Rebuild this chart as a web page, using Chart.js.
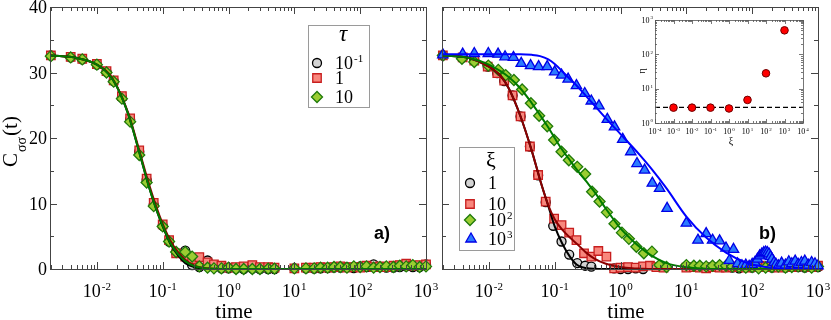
<!DOCTYPE html>
<html>
<head>
<meta charset="utf-8">
<script src="https://cdn.jsdelivr.net/npm/chart.js@4.4.1/dist/chart.umd.min.js"></script>
<style>
html, body { margin: 0; padding: 0; background: #fff; width: 831px; height: 320px; overflow: hidden; }
canvas { position: absolute; }
</style>
</head>
<body>
<canvas id="chartA" width="450" height="340" style="left:-10px;top:-10px"></canvas>
<canvas id="chartB" width="411" height="340" style="left:430px;top:-10px"></canvas>
<canvas id="inset" width="200" height="150" style="left:620px;top:0px"></canvas>
<script>
// ---- axes ----
const X_MIN = 0.00194, X_MAX = 1000;
const X_EXP = [-2, -1, 0, 1, 2, 3];
const Y_TICKS = [0, 10, 20, 30, 40];
const Y_MINOR = [5, 15, 25, 35];

// ---- panel a : tau = 10^-1, 1, 10 ----
const TAU_LABELS = ['10^-1', '1', '10'];
const tA = [0.002, 0.004, 0.006, 0.01, 0.014, 0.018, 0.024, 0.032, 0.044, 0.057, 0.073, 0.1, 0.125, 0.16,
    0.22, 0.28, 0.36, 0.48, 0.6, 0.78, 1.0, 1.3, 1.7, 2.3, 3.0, 4.0, 5.0,
    10, 15, 20, 25, 32, 40, 50, 63, 80, 100, 125, 160, 200, 250, 320, 400, 500, 630, 800, 1000];
const aTau01 = [32.6, 32.3, 32.0, 31.2, 30.1, 28.7, 26.2, 22.8, 17.9, 13.6, 9.8, 6.6, 4.2, 2.5,
    2.8, 0.6, 0.3, 1.3, 0.3, 0.1, 0.1, 0.05, 0, 0.05, 0, 0, 0,
    0.1, 0.1, 0.05, 0.1, 0.15, 0.2, 0.2, 0.3, 0.15, 0.4, 0.3, 0.7, 0.3, 0.2, 0.2, 0.3, 0.4, 0.3, 0.3, 0.7];
const aTau1 = [32.6, 32.4, 32.1, 31.3, 30.2, 28.8, 26.4, 23.0, 18.1, 13.8, 10.1, 6.8, 4.4, 2.4,
    1.9, 1.5, 1.8, 1.0, 0.7, 0.5, 0.2, 0.3, 0.4, 0.6, 0.3, 0.3, 0.2,
    0.1, 0.2, 0.2, 0.3, 0.2, 0.3, 0.4, 0.2, 0.3, 0.2, 0.5, 0.3, 0.4, 0.3, 0.5, 0.6, 0.8, 0.5, 0.6, 0.7];
const aTau10 = [32.5, 32.3, 32.0, 31.2, 30.0, 28.6, 26.0, 22.5, 17.4, 13.2, 9.6, 6.5, 4.2, 2.6,
    2.6, 1.9, 0.4, 0.2, 0.1, 0.1, 0.2, 0, 0, 0, 0, 0.05, 0.05,
    0.1, 0.1, 0.1, 0.2, 0.2, 0.3, 0.3, 0.2, 0.4, 0.3, 0.4, 0.2, 0.3, 0.4, 0.3, 0.5, 0.4, 0.6, 0.3, 0.4];

// fitted curves (both panels use the same time grid)
const fitT = [0.002, 0.005, 0.01, 0.015, 0.02, 0.03, 0.045, 0.06, 0.08, 0.1, 0.13, 0.17, 0.22, 0.3, 0.4, 0.6,
    1, 1.5, 2, 3, 5, 10, 20, 40, 80, 150, 300, 1000];
const aFit01 = [32.6, 32.2, 31.2, 29.8, 27.9, 23.6, 17.5, 13.0, 9.1, 6.5, 3.9, 2.1, 0.9, 0.3, 0.08, 0,
    0, 0, 0, 0, 0, 0, 0, 0, 0, 0, 0, 0];
const aFit1 = [32.6, 32.2, 31.2, 29.9, 28.0, 23.8, 17.8, 13.4, 9.5, 6.9, 4.4, 2.6, 1.4, 0.55, 0.2, 0.05,
    0, 0, 0, 0, 0, 0, 0, 0, 0, 0, 0, 0];
const aFit10 = [32.6, 32.2, 31.2, 29.8, 27.9, 23.6, 17.5, 13.0, 9.1, 6.6, 4.0, 2.3, 1.2, 0.45, 0.15, 0.03,
    0, 0, 0, 0, 0, 0, 0, 0, 0, 0, 0, 0];

// ---- panel b : xi = 1, 10, 10^2, 10^3 ----
const XI_LABELS = ['1', '10', '10^2', '10^3'];
const tB1 = [0.002, 0.004, 0.006, 0.0096, 0.0134, 0.0171, 0.0229, 0.0303, 0.042, 0.056, 0.073, 0.095, 0.127, 0.166,
    0.22, 0.29, 0.36, 0.8, 1.0, 1.3, 1.7, 2.2,
    50, 63, 80, 100, 130, 160, 200, 250, 320, 400, 500, 630, 800, 1000];
const bXi1 = [32.6, 32.3, 32.0, 30.9, 29.9, 28.7, 26.5, 23.3, 18.7, 14.3, 10.2, 6.6, 4.2, 2.2,
    0.9, 0.5, 0.35, 0.1, 0, 0, 0.1, 0,
    0.2, 0.1, 0.3, 0.2, 0.3, 0.4, 0.2, 0.3, 0.2, 0.4, 0.3, 0.2, 0.4, 0.3];
const tB2 = [0.002, 0.004, 0.006, 0.0096, 0.0134, 0.0171, 0.0229, 0.0303, 0.042, 0.056,
    0.073, 0.098, 0.127, 0.166, 0.214, 0.279, 0.36, 0.46, 0.61, 0.8,
    1.0, 1.3, 1.7, 2.2, 2.8, 3.5, 4.5,
    10, 13, 16, 20, 25, 32, 40, 50, 63, 80, 100, 130, 160, 200, 250, 320, 400, 500, 630, 800, 1000];
const bXi10 = [32.6, 32.3, 31.8, 30.9, 29.9, 28.75, 26.5, 23.3, 18.7, 14.35,
    10.3, 7.7, 6.7, 5.55, 4.4, 2.4, 1.9, 2.75, 1.9, 0.1,
    0.2, 0.3, 0.2, 0.4, 0.5, 0.3, 0.2,
    0.2, 0.3, 0.2, 0.1, 0.3, 0.2, 0.2, 0.3, 0.4, 0.2, 0.3, 0.5, 0.3, 0.4, 0.2, 0.5, 0.3, 0.4, 0.6, 0.3, 0.5];
const tB3 = [0.002, 0.0039, 0.006, 0.0098, 0.0139, 0.018, 0.024, 0.032, 0.0435, 0.058,
    0.077, 0.098, 0.127, 0.164, 0.22, 0.29, 0.37, 0.48, 0.62, 0.81,
    1.05, 1.34, 1.74, 2.26, 3.0, 3.9, 5.0,
    10, 13, 16, 20, 25, 32, 40, 50, 63, 80, 100, 125, 160, 200, 250, 320, 400, 500, 630, 800, 1000];
const bXi100 = [32.6, 32.1, 31.6, 31.05, 30.4, 29.6, 28.85, 27.4, 25.3, 23.4,
    21.8, 19.7, 17.9, 16.6, 15.6, 14.5, 11.8, 10.3, 8.65, 6.9,
    5.55, 4.6, 3.4, 2.4, 2.65, 0.6, 0.3,
    0.6, 0.5, 0.5, 0.4, 0.5, 0.6, 0.5, 0.4, 0.3, 0.2, 0.3, 0.1, 0.2, 0.3, 0.4, 0.2, 0.3, 0.4, 0.3, 0.2, 0.4];
const tB4 = [0.002, 0.004, 0.006, 0.0098, 0.0138, 0.0176, 0.0236, 0.031, 0.043, 0.057,
    0.077, 0.1, 0.127, 0.16, 0.214, 0.286, 0.36, 0.47, 0.63, 0.81,
    1.08, 1.43, 1.78, 2.32, 3.04, 3.92, 5.1,
    10, 15, 20, 25, 32, 40, 45, 52, 60, 70, 80, 90, 100, 110, 120, 130, 140, 150, 160, 170,
    180, 190, 200, 215, 230, 250, 280, 320, 360, 400, 450, 500, 560, 630, 710, 800, 900, 1000];
const bXi1000 = [32.7, 32.8, 32.9, 32.9, 32.8, 32.4, 32.3, 31.4, 31.05, 30.9,
    30.9, 30.1, 29.6, 29.0, 28.0, 26.8, 25.65, 24.9, 22.85, 21.7,
    19.8, 17.9, 16.1, 15.1, 13.1, 12.3, 9.25,
    7.0, 4.4, 5.4, 4.4, 4.3, 3.2, 1.3, 3.0, 0.8, 0.5, 0.6, 0.4, 0.7, 1.0, 1.5, 2.0, 2.3, 2.5, 2.6, 2.5,
    2.3, 1.9, 1.5, 1.0, 0.7, 0.5, 0.9, 0.6, 1.1, 0.8, 1.2, 0.7, 1.0, 1.2, 0.6, 1.0, 0.8, 0.5];
const bFit1 = [32.6, 32.2, 30.9, 29.5, 27.6, 23.4, 18.0, 13.6, 9.6, 6.5, 3.9, 1.9, 0.6, 0.15, 0.03, 0,
    0, 0, 0, 0, 0, 0, 0, 0, 0, 0, 0, 0];
const bFit10 = [32.6, 32.2, 30.9, 29.5, 27.6, 23.4, 18.0, 13.6, 9.7, 7.6, 6.0, 4.8, 3.8, 2.5, 1.6, 0.8,
    0.3, 0.1, 0.05, 0, 0, 0, 0, 0, 0, 0, 0, 0];
const bFit100 = [32.6, 32.2, 31.2, 30.2, 29.3, 27.6, 25.3, 23.5, 21.6, 20.0, 18.2, 16.6, 15.1, 13.4, 11.8, 9.2,
    6.2, 4.4, 3.3, 2.0, 0.9, 0.25, 0.05, 0, 0, 0, 0, 0];
const bFit1000 = [32.8, 32.8, 32.8, 32.8, 32.8, 32.8, 32.7, 32.5, 32.0, 31.3, 30.2, 29.0, 27.9, 26.4, 25.0, 23.0,
    20.6, 18.7, 17.3, 15.2, 12.3, 8.0, 4.8, 2.5, 1.0, 0.35, 0.05, 0];

// ---- inset : eta vs xi ----
const INSET_XI = [1e-3, 1e-2, 1e-1, 1, 10, 100, 1000];
const INSET_ETA = [2.8, 2.8, 2.8, 2.65, 4.7, 28, 500];
const ETA_REF = 2.85;
const INSET_X_MIN = 1e-4, INSET_X_MAX = 1e4, INSET_Y_MIN = 1, INSET_Y_MAX = 1000;
const INSET_X_EXP = [-4, -3, -2, -1, 0, 1, 2, 3, 4];
const INSET_Y_EXP = [0, 1, 2, 3];

const SERIF = '"Liberation Serif", "DejaVu Serif", serif';
const SANS = '"Liberation Sans", Arial, sans-serif';

const MARK = {
    circle: { pointStyle: 'circle', pointRadius: 4.5, fill: '#d3d3d3', line: '#000000' },
    square: { pointStyle: 'rect', pointRadius: 6, fill: '#f8877d', line: '#c81e1e' },
    diamond: { pointStyle: 'rectRot', pointRadius: 5.5, fill: '#9acd32', line: '#1f7a0a' },
    triangle: { pointStyle: 'triangle', pointRadius: 6, fill: '#2b7bff', line: '#0000e6' }
};

function pts(xs, ys) {
    return xs.map((x, i) => ({ x: x, y: ys[i] }));
}

function marks(xs, ys, m, label, order) {
    return {
        label: label,
        data: pts(xs, ys),
        showLine: false,
        pointStyle: m.pointStyle,
        pointRadius: m.pointRadius,
        pointHoverRadius: m.pointRadius,
        pointBackgroundColor: m.fill,
        pointBorderColor: m.line,
        pointBorderWidth: 1.3,
        backgroundColor: m.fill,
        borderColor: m.line,
        order: order,
        clip: false
    };
}

function fit(xs, ys, color, order) {
    return {
        data: pts(xs, ys),
        showLine: true,
        pointRadius: 0,
        borderColor: color,
        borderWidth: 2,
        cubicInterpolationMode: 'monotone',
        fill: false,
        order: order
    };
}

// "10" with a raised exponent
function pow10(ctx, x, y, exp, fs, align) {
    const ss = Math.round(fs * 0.62);
    const e = String(exp);
    ctx.font = fs + 'px ' + SERIF;
    const w1 = ctx.measureText('10').width;
    ctx.font = ss + 'px ' + SERIF;
    const w2 = ctx.measureText(e).width;
    const total = w1 + 1 + w2;
    let x0 = x;
    if (align === 'center') x0 = x - total / 2;
    if (align === 'right') x0 = x - total;
    ctx.textAlign = 'left';
    ctx.textBaseline = 'alphabetic';
    ctx.font = fs + 'px ' + SERIF;
    ctx.fillText('10', x0, y);
    ctx.font = ss + 'px ' + SERIF;
    ctx.fillText(e, x0 + w1 + 1, y - fs * 0.4);
}

function label(ctx, txt, x, y, fs) {
    if (txt.indexOf('^') >= 0) {
        pow10(ctx, x, y, txt.split('^')[1], fs, 'left');
    } else {
        ctx.font = fs + 'px ' + SERIF;
        ctx.textAlign = 'left';
        ctx.textBaseline = 'alphabetic';
        ctx.fillText(txt, x, y);
    }
}

function logTicks(scale, major, minor) {
    const out = [];
    const d0 = Math.floor(Math.log10(scale.min)), d1 = Math.ceil(Math.log10(scale.max));
    for (let d = d0; d <= d1; d++) {
        for (let m = 1; m < 10; m++) {
            const v = m * Math.pow(10, d);
            if (v < scale.min * 0.9999 || v > scale.max * 1.0001) continue;
            out.push({ v: v, len: m === 1 ? major : minor });
        }
    }
    return out;
}

function drawLegend(ctx, chart, L) {
    ctx.fillStyle = '#fff';
    ctx.fillRect(L.box[0], L.box[1], L.box[2] - L.box[0], L.box[3] - L.box[1]);
    ctx.strokeStyle = '#9a9a9a';
    ctx.lineWidth = 1;
    ctx.strokeRect(L.box[0] + 0.5, L.box[1] + 0.5, L.box[2] - L.box[0], L.box[3] - L.box[1]);
    ctx.fillStyle = '#000';
    ctx.font = L.titleFont;
    ctx.textAlign = 'center';
    ctx.textBaseline = 'alphabetic';
    ctx.fillText(L.title, L.titleX, L.titleY);
    L.rows.forEach(r => {
        const ds = chart.data.datasets[r.ds];
        ctx.fillStyle = ds.pointBackgroundColor;
        ctx.strokeStyle = ds.pointBorderColor;
        ctx.lineWidth = ds.pointBorderWidth;
        Chart.helpers.drawPoint(ctx, { pointStyle: ds.pointStyle, radius: ds.pointRadius, borderWidth: ds.pointBorderWidth, rotation: 0 }, r.mx, r.my);
        ctx.fillStyle = '#000';
        label(ctx, ds.label, L.tx, r.my + 6, 18);
    });
}

// frame, inward ticks on all four sides, tick labels, overlays
function axesPlugin(cfg) {
    return {
        id: 'axes_' + cfg.name,
        afterDraw(chart) {
            const ctx = chart.ctx, a = chart.chartArea, xs = chart.scales.x, ys = chart.scales.y;
            ctx.save();
            ctx.strokeStyle = cfg.color;
            ctx.lineWidth = cfg.lw;
            ctx.beginPath();
            logTicks(xs, cfg.major, cfg.minor).forEach(t => {
                const p = Math.round(xs.getPixelForValue(t.v)) + 0.5;
                ctx.moveTo(p, a.bottom); ctx.lineTo(p, a.bottom - t.len);
                ctx.moveTo(p, a.top); ctx.lineTo(p, a.top + t.len);
            });
            const yt = cfg.logY ? logTicks(ys, cfg.major, cfg.minor)
                : Y_TICKS.map(v => ({ v: v, len: cfg.major })).concat(Y_MINOR.map(v => ({ v: v, len: cfg.minor })));
            yt.forEach(t => {
                const p = Math.round(ys.getPixelForValue(t.v)) + 0.5;
                ctx.moveTo(a.left, p); ctx.lineTo(a.left + t.len, p);
                ctx.moveTo(a.right, p); ctx.lineTo(a.right - t.len, p);
            });
            ctx.stroke();
            ctx.strokeRect(Math.round(a.left) + 0.5, Math.round(a.top) + 0.5, Math.round(a.right - a.left), Math.round(a.bottom - a.top));

            ctx.fillStyle = '#000';
            cfg.xExp.forEach(e => pow10(ctx, xs.getPixelForValue(Math.pow(10, e)), a.bottom + cfg.xDy, e, cfg.fs, 'center'));
            if (cfg.yExp) {
                cfg.yExp.forEach(e => pow10(ctx, a.left - 2, ys.getPixelForValue(Math.pow(10, e)) + cfg.fs * 0.33, e, cfg.fs, 'right'));
            }
            if (cfg.yLabels) {
                ctx.font = cfg.fs + 'px ' + SERIF;
                ctx.textAlign = 'right';
                ctx.textBaseline = 'alphabetic';
                Y_TICKS.forEach(v => ctx.fillText(String(v), a.left - 3, ys.getPixelForValue(v) + 6));
            }
            if (cfg.xTitle) {
                ctx.font = cfg.xTitle.font;
                ctx.textAlign = 'center';
                ctx.fillText(cfg.xTitle.text, (a.left + a.right) / 2 + cfg.xTitle.dx, a.bottom + cfg.xTitle.dy);
            }
            ctx.restore();
            if (cfg.extra) {
                ctx.save();
                ctx.translate(-cfg.off[0], -cfg.off[1]);
                cfg.extra(ctx, chart);
                ctx.restore();
            }
        }
    };
}

const common = {
    responsive: false,
    devicePixelRatio: 1,
    animation: false,
    events: [],
    plugins: { legend: { display: false }, tooltip: { enabled: false } }
};

// ---------- panel a ----------
new Chart(document.getElementById('chartA').getContext('2d'), {
    type: 'scatter',
    data: {
        datasets: [
            marks(tA, aTau01, MARK.circle, TAU_LABELS[0], 6),
            marks(tA, aTau1, MARK.square, TAU_LABELS[1], 5),
            marks(tA, aTau10, MARK.diamond, TAU_LABELS[2], 4),
            fit(fitT, aFit01, '#000000', 3),
            fit(fitT, aFit1, '#8b0000', 2),
            fit(fitT, aFit10, '#007a00', 1)
        ]
    },
    options: Object.assign({}, common, {
        layout: { padding: { left: 60, top: 17, right: 14, bottom: 61 } },
        scales: {
            x: { type: 'logarithmic', min: X_MIN, max: X_MAX, display: false },
            y: { type: 'linear', min: 0, max: 40, display: false }
        }
    }),
    plugins: [axesPlugin({
        name: 'a', color: '#444', lw: 1, major: 7, minor: 4, xExp: X_EXP, xDy: 28, fs: 18, yLabels: true,
        xTitle: { text: 'time', font: '21px ' + SERIF, dx: -4, dy: 49 },
        off: [-10, -10],
        extra: function (ctx, chart) {
            // y axis title  C_σσ(t)
            ctx.save();
            ctx.fillStyle = '#000';
            ctx.translate(17, 167);
            ctx.rotate(-Math.PI / 2);
            ctx.textAlign = 'left';
            ctx.textBaseline = 'alphabetic';
            ctx.font = '21px ' + SERIF;
            ctx.fillText('C', 0, 0);
            let w = ctx.measureText('C').width + 1;
            ctx.font = '14px ' + SERIF;
            ctx.fillText('σσ', w, 9);
            w += ctx.measureText('σσ').width + 1;
            ctx.font = '21px ' + SERIF;
            ctx.fillText('(t)', w, 0);
            ctx.restore();

            drawLegend(ctx, chart, {
                box: [308, 25, 369, 107], title: 'τ', titleFont: 'italic 23px ' + SERIF, titleX: 343, titleY: 41,
                tx: 335, rows: [{ ds: 0, mx: 317, my: 63 }, { ds: 1, mx: 317, my: 78 }, { ds: 2, mx: 317, my: 97 }]
            });

            ctx.fillStyle = '#000';
            ctx.font = 'bold 18px ' + SANS;
            ctx.textAlign = 'left';
            ctx.fillText('a)', 374, 239);
        }
    })]
});

// ---------- panel b ----------
new Chart(document.getElementById('chartB').getContext('2d'), {
    type: 'scatter',
    data: {
        datasets: [
            marks(tB1, bXi1, MARK.circle, XI_LABELS[0], 8),
            marks(tB2, bXi10, MARK.square, XI_LABELS[1], 7),
            marks(tB3, bXi100, MARK.diamond, XI_LABELS[2], 6),
            marks(tB4, bXi1000, MARK.triangle, XI_LABELS[3], 5),
            fit(fitT, bFit1, '#000000', 4),
            fit(fitT, bFit10, '#8b0000', 3),
            fit(fitT, bFit100, '#007a00', 2),
            fit(fitT, bFit1000, '#0000ff', 1)
        ]
    },
    options: Object.assign({}, common, {
        layout: { padding: { left: 12, top: 17, right: 23, bottom: 61 } },
        scales: {
            x: { type: 'logarithmic', min: X_MIN, max: X_MAX, display: false },
            y: { type: 'linear', min: 0, max: 40, display: false }
        }
    }),
    plugins: [axesPlugin({
        name: 'b', color: '#444', lw: 1, major: 7, minor: 4, xExp: X_EXP, xDy: 28, fs: 18, yLabels: false,
        xTitle: { text: 'time', font: '21px ' + SERIF, dx: -4, dy: 49 },
        off: [430, -10],
        extra: function (ctx, chart) {
            drawLegend(ctx, chart, {
                box: [459, 147, 514, 250], title: 'ξ', titleFont: '22px ' + SERIF, titleX: 491, titleY: 167,
                tx: 488, rows: [{ ds: 0, mx: 470, my: 183 }, { ds: 1, mx: 470, my: 204 }, { ds: 2, mx: 470, my: 220 }, { ds: 3, mx: 471, my: 239 }]
            });
            ctx.fillStyle = '#000';
            ctx.font = 'bold 18px ' + SANS;
            ctx.textAlign = 'left';
            ctx.fillText('b)', 759, 239);
        }
    })]
});

// ---------- inset ----------
new Chart(document.getElementById('inset').getContext('2d'), {
    type: 'scatter',
    data: {
        datasets: [
            {
                data: pts(INSET_XI, INSET_ETA),
                showLine: false,
                pointStyle: 'circle',
                pointRadius: 3.8,
                pointBackgroundColor: '#ff0000',
                pointBorderColor: '#700000',
                pointBorderWidth: 1,
                order: 1,
                clip: false
            },
            {
                data: pts([INSET_X_MIN, INSET_X_MAX], [ETA_REF, ETA_REF]),
                showLine: true,
                pointRadius: 0,
                borderColor: '#000',
                borderWidth: 1.4,
                borderDash: [5, 3],
                order: 2
            }
        ]
    },
    options: Object.assign({}, common, {
        layout: { padding: { left: 35, top: 20, right: 17, bottom: 27 } },
        scales: {
            x: { type: 'logarithmic', min: INSET_X_MIN, max: INSET_X_MAX, display: false },
            y: { type: 'logarithmic', min: INSET_Y_MIN, max: INSET_Y_MAX, display: false }
        }
    }),
    plugins: [axesPlugin({
        name: 'inset', color: '#555', lw: 0.8, major: 4, minor: 2, logY: true, xExp: INSET_X_EXP, xDy: 11, fs: 8,
        yExp: INSET_Y_EXP,
        off: [620, 0],
        extra: function (ctx) {
            ctx.fillStyle = '#000';
            ctx.font = '10px ' + SERIF;
            ctx.textAlign = 'center';
            ctx.textBaseline = 'middle';
            ctx.fillText('ξ', 731, 141);
            ctx.save();
            ctx.translate(642, 71);
            ctx.rotate(-Math.PI / 2);
            ctx.fillText('η', 0, 0);
            ctx.restore();
        }
    })]
});
</script>
</body>
</html>
